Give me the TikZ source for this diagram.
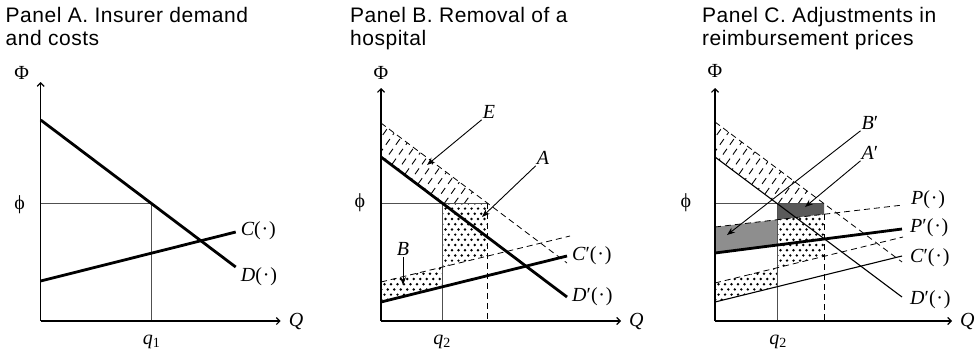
\documentclass[tikz,border=0pt]{standalone}
\usepackage{fontspec}
\setmainfont{Liberation Serif}
\newfontfamily\titlefont{Liberation Sans}[LetterSpace=2.5]
\usetikzlibrary{arrows.meta, positioning, calc}
\definecolor{ecFill}{HTML}{8E8E8E}
\definecolor{ecDark}{HTML}{5A5A5A}
\definecolor{ecGuide}{HTML}{505050}
\newcommand{\fnarg}{(\kern0.8pt·\kern0.8pt)}
\newcommand{\dotgrid}[4]{%
  \foreach \gr in {0,...,#3}{%
    \foreach \gc in {0,...,#4}{%
      \fill ({#1+6.5*\gc+3.25*mod(\gr,2)},{#2-5.2*\gr}) circle (1.35pt);
    }%
  }%
}
\tikzset{
  axis/.style={-{Straight Barb[length=3.5pt,width=7pt]}, line width=1.2pt},
  boldcurve/.style={line width=2.8pt},
  thincurve/.style={line width=1.1pt},
  oldcurve/.style={line width=0.8pt, dash pattern=on 6pt off 4pt},
  guide/.style={line width=0.7pt, ecGuide},
  guidedash/.style={line width=1pt, dash pattern=on 6pt off 4pt},
  hatchline/.style={line width=0.9pt, dash pattern=on 7pt off 5pt},
  pointer/.style={-{Stealth[length=8pt,width=6pt]}, line width=0.9pt},
  lbl/.style={font=\fontsize{20}{23}\selectfont, inner sep=1pt},
  ttl/.style={font=\titlefont\fontsize{21}{23}\selectfont, anchor=base west, inner sep=0pt}
}
\begin{document}
\begin{tikzpicture}[x=1pt, y=-1pt]
  \useasboundingbox (0,0) rectangle (977,354);
  % titles
  \node[ttl] (ttlA1) at (5.5,22.7) {Panel A. Insurer demand};
  \node[ttl] (ttlA2) at (5.5,45.7) {and costs};
  \node[ttl] (ttlB1) at (350,22.7) {Panel B. Removal of a};
  \node[ttl] (ttlB2) at (350,45.7) {hospital};
  \node[ttl] (ttlC1) at (702,22.7) {Panel C. Adjustments in};
  \node[ttl] (ttlC2) at (702,45.7) {reimbursement prices};

  % Panel A
  \begin{scope}[shift={(40.7,321)}]
    \coordinate (oA) at (0,0);
    \coordinate (yA) at (0,-239);
    \coordinate (xA) at (240,0);
    \coordinate (dA0) at (0,-201); \coordinate (dA1) at (195,-54);
    \coordinate (cA0) at (0,-40);  \coordinate (cA1) at (195,-89);
    \draw[guide] (0,-118) -| (111,0);
    \draw[boldcurve] (dA0) -- (dA1);
    \draw[boldcurve] (cA0) -- (cA1);
    \draw[axis] (oA) -- (yA);
    \draw[axis] (oA) -- (xA);
    \node[lbl, anchor=west] (lblCA) at ($(cA1)+(4,-1)$) {{\itshape C}\fnarg};
    \node[lbl, anchor=west] (lblDA) at ($(dA1)+(4,10)$) {{\itshape D}\fnarg};
    \node[lbl] (PhiA) at (-19,-248) {Φ};
    \node[lbl] (phiA) at (-21,-116) {ϕ};
    \node[lbl] (qA) at (111,21) {\itshape q\textsubscript{\upshape 1}};
    \node[lbl, right=7pt of xA] (QA) {\itshape Q};
  \end{scope}

  % Panel B
  \begin{scope}[shift={(381,321)}]
    \coordinate (oB) at (0,0);
    \coordinate (yB) at (0,-233);
    \coordinate (xB) at (240,0);
    \coordinate (dB0) at (0,-164);  \coordinate (dB1) at (186,-24);
    \coordinate (dBu0) at (0,-198); \coordinate (dBu1) at (186,-58);
    \coordinate (cB0) at (0,-19);   \coordinate (cB1) at (186,-65);
    \coordinate (cBu0) at (0,-39);  \coordinate (cBu1) at (189,-85);
    % shaded areas
    \begin{scope}
      \clip (0,-198) -- (106,-118) -- (61,-118) -- (0,-164) -- cycle;
      \foreach \k in {-300,-290,...,0} \draw[hatchline] (\k,0) -- ++(170,-240);
    \end{scope}
    \begin{scope}
      \clip (61,-118) -- (106,-118) -- (106,-64.8) -- (61,-53.8) -- cycle;
      \dotgrid{58}{-50}{14}{9}
    \end{scope}
    \begin{scope}
      \clip (0,-19) -- (0,-39) -- (61,-53.8) -- (61,-34.1) -- cycle;
      \dotgrid{-3}{-16}{8}{11}
    \end{scope}
    \draw[guide] (0,-118) -- (106,-118);
    \draw[guide] (61,-118) -- (61,0);
    \draw[guidedash] (106,-118) -- (106,0);
    \draw[oldcurve] (dBu0) -- (dBu1);
    \draw[oldcurve] (cBu0) -- (cBu1);
    \draw[boldcurve] (dB0) -- (dB1);
    \draw[boldcurve] (cB0) -- (cB1);
    \draw[axis] (oB) -- (yB);
    \draw[axis] (oB) -- (xB);
    \node[lbl, anchor=west] (lblCB) at ($(cB1)+(4,0)$) {{\itshape C}′\fnarg};
    \node[lbl, anchor=west] (lblDB) at ($(dB1)+(4,0)$) {{\itshape D}′\fnarg};
    \node[lbl, above=7pt of yB] (PhiB) {Φ};
    \node[lbl] (phiB) at (-21,-118) {ϕ};
    \node[lbl] (qB) at (61,21) {\itshape q\textsubscript{\upshape 2}};
    \node[lbl, right=7pt of xB] (QB) {\itshape Q};
    % area labels
    \coordinate (tipE) at (46,-156);
    \coordinate (tipA) at (101,-104);
    \coordinate (tipB) at (22,-36);
    \node[lbl] (lblE) at (108,-209) {\itshape E};
    \node[lbl] (lblA) at (162,-163) {\itshape A};
    \node[lbl] (lblB) at (22,-72) {\itshape B};
    \draw[pointer] (lblE.south west) -- (tipE);
    \draw[pointer] (lblA.south west) -- (tipA);
    \draw[pointer] (lblB.south) -- (tipB);
  \end{scope}

  % Panel C
  \begin{scope}[shift={(715,321)}]
    \coordinate (oC) at (0,0);
    \coordinate (yC) at (0,-233);
    \coordinate (xC) at (237,0);
    \coordinate (dC0) at (0,-164);   \coordinate (dC1) at (187,-24);
    \coordinate (dCu0) at (0,-199);  \coordinate (dCu1) at (187,-59);
    \coordinate (cC0) at (0,-19);    \coordinate (cC1) at (187,-65);
    \coordinate (cCu0) at (0,-38);   \coordinate (cCu1) at (188,-84);
    \coordinate (pC0) at (0,-94);    \coordinate (pC1) at (188,-116);
    \coordinate (ppC0) at (0,-68);   \coordinate (ppC1) at (187,-92);
    % shaded areas
    \begin{scope}
      \clip (0,-199) -- (108,-118) -- (62,-118) -- (0,-164) -- cycle;
      \foreach \k in {-300,-290,...,0} \draw[hatchline] (\k,0) -- ++(170,-240);
    \end{scope}
    \fill[ecFill] (0,-68) -- (0,-94) -- (62,-101.3) -- (62,-76) -- cycle;
    \fill[ecDark] (62,-118) -- (109,-118) -- (109,-106.8) -- (62,-101.3) -- cycle;
    \begin{scope}
      \clip (62,-101.3) -- (109,-106.8) -- (109,-64.7) -- (62,-53.2) -- cycle;
      \dotgrid{59}{-50}{12}{9}
    \end{scope}
    \begin{scope}
      \clip (0,-19) -- (0,-38) -- (62,-53.2) -- (62,-34.3) -- cycle;
      \dotgrid{-3}{-16}{8}{11}
    \end{scope}
    \draw[guide] (0,-118) -- (109,-118);
    \draw[guide] (62,-118) -- (62,0);
    \draw[guidedash] (109,-107) -- (109,0);
    \draw[oldcurve] (dCu0) -- (dCu1);
    \draw[oldcurve] (cCu0) -- (cCu1);
    \draw[oldcurve] (pC0) -- (pC1);
    \draw[thincurve] (dC0) -- (dC1);
    \draw[thincurve] (cC0) -- (cC1);
    \draw[boldcurve] (ppC0) -- (ppC1);
    \draw[axis] (oC) -- (yC);
    \draw[axis] (oC) -- (xC);
    \node[lbl, anchor=west] (lblPC) at ($(pC1)+(7,-5)$) {{\itshape P}\fnarg};
    \node[lbl, anchor=west] (lblPPC) at ($(ppC1)+(7,-1)$) {{\itshape P}′\fnarg};
    \node[lbl, anchor=west] (lblCC) at ($(cC1)+(7,2)$) {{\itshape C}′\fnarg};
    \node[lbl, anchor=west] (lblDC) at ($(dC1)+(7,3)$) {{\itshape D}′\fnarg};
    \node[lbl, above=9pt of yC] (PhiC) {Φ};
    \node[lbl] (phiC) at (-29,-118) {ϕ};
    \node[lbl] (qC) at (63,21) {\itshape q\textsubscript{\upshape 2}};
    \node[lbl, right=7pt of xC] (QC) {\itshape Q};
    % area labels
    \coordinate (tipBB) at (12,-86);
    \coordinate (tipAA) at (90,-114);
    \node[lbl] (lblBB) at (155,-198) {{\itshape B}′};
    \node[lbl] (lblAA) at (155,-168) {{\itshape A}′};
    \draw[pointer] (lblBB.south west) -- (tipBB);
    \draw[pointer] (lblAA.south west) -- (tipAA);
  \end{scope}
\end{tikzpicture}
\end{document}
